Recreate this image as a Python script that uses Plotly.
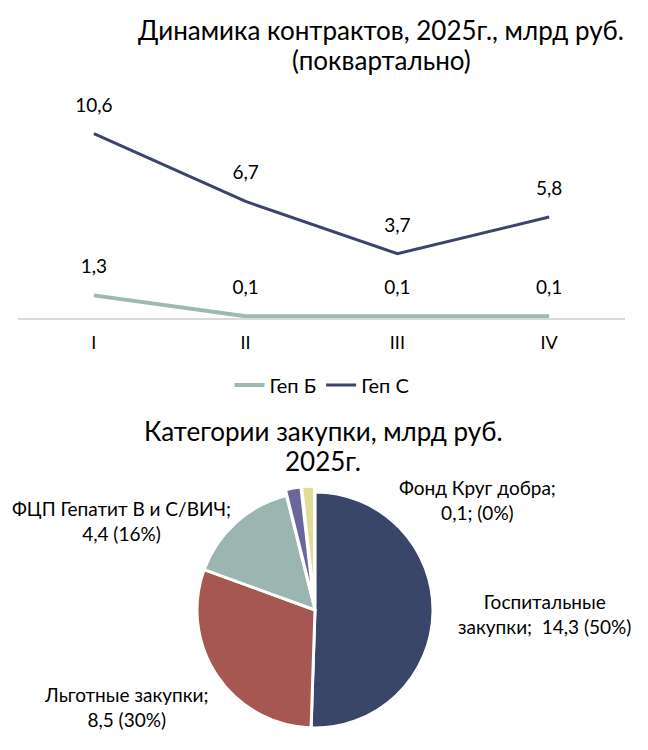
import plotly.graph_objects as go

# квартальная динамика
quarters = ["I", "II", "III", "IV"]
gep_b = [1.3, 0.1, 0.1, 0.1]
gep_c = [10.6, 6.7, 3.7, 5.8]

# категории закупки
categories = ["Госпитальные закупки", "Льготные закупки", "ФЦП Гепатит В и С/ВИЧ",
              "Прочие", "Фонд Круг добра"]
cat_values = [14.3, 8.5, 4.4, 0.6, 0.5]
cat_labels = ["Госпитальные<br>закупки;  14,3 (50%)", "Льготные закупки;<br>8,5 (30%)",
              "ФЦП Гепатит В и С/ВИЧ;<br>4,4 (16%)", "", "Фонд Круг добра;<br>0,1; (0%)"]
cat_colors = ["#3a4669", "#a65752", "#9bb5b1", "#6a6699", "#e1dc97"]

title_top = ["Динамика контрактов, 2025г., млрд руб.", "(поквартально)"]
title_pie = ["Категории закупки, млрд руб.", "2025г."]

# страница браузера добавляет отступ 8px
OFF = 8
W, H = 648 - OFF, 750 - OFF
FONT = "Lato"


def px(x):
    return (x - OFF) / W


def py(y):
    return 1 - (y - OFF) / H


def fmt(v):
    return f"{v:.1f}".replace(".", ",")


fig = go.Figure()

fig.add_trace(go.Scatter(
    x=quarters, y=gep_b, mode="lines+markers+text", name="Геп Б",
    line=dict(color="#9fb8b3", width=4),
    marker=dict(size=26, color="rgba(0,0,0,0)"),
    text=[fmt(v) for v in gep_b],
    textposition="top center", textfont=dict(size=19, color="black"),
    cliponaxis=False,
))
fig.add_trace(go.Scatter(
    x=quarters, y=gep_c, mode="lines+markers+text", name="Геп С",
    line=dict(color="#3b4569", width=3),
    marker=dict(size=26, color="rgba(0,0,0,0)"),
    text=[fmt(v) for v in gep_c],
    textposition="top center", textfont=dict(size=19, color="black"),
    cliponaxis=False,
))

# пирог
cx, cy, r = 315, 610, 118
pull = [0, 0, 0, 0.05, 0.05]
rr = r * 1.05
fig.add_trace(go.Pie(
    labels=categories, values=cat_values, sort=False, direction="clockwise",
    rotation=0, textinfo="none", showlegend=False, pull=pull,
    marker=dict(colors=cat_colors, line=dict(color="white", width=3)),
    domain=dict(x=[px(cx - rr), px(cx + rr)], y=[py(cy + rr), py(cy - rr)]),
    hoverinfo="label+value",
))

# подписи секторов
label_pos = [(544, 614), (126, 707), (121, 521), None, (477, 500)]
for txt, pos in zip(cat_labels, label_pos):
    if pos is None:
        continue
    fig.add_annotation(x=px(pos[0]), y=py(pos[1]), xref="paper", yref="paper",
                       xanchor="center", yanchor="middle",
                       text=txt, showarrow=False, align="center",
                       font=dict(size=19, color="black", family=FONT))

# заголовки
for lines, xc, ys in [(title_top, 381, [30, 60]), (title_pie, 323, [431, 461])]:
    for txt, yy in zip(lines, ys):
        fig.add_annotation(x=px(xc), y=py(yy), xref="paper", yref="paper",
                           xanchor="center", yanchor="middle",
                           text=txt, showarrow=False,
                           font=dict(size=26, color="black", family=FONT))

y0, y12 = 318, 318 - 12 * 17.4
fig.update_layout(
    width=W, height=H,
    margin=dict(l=0, r=0, t=0, b=0),
    paper_bgcolor="white", plot_bgcolor="white",
    font=dict(family=FONT, color="black"),
    xaxis=dict(domain=[px(18), px(625)], range=[-0.5, 3.5], showgrid=False,
               showline=True, linecolor="#d9d9d9", linewidth=1.5, ticks="",
               tickfont=dict(size=18), ticklabelstandoff=8, zeroline=False),
    yaxis=dict(domain=[py(y0), py(y12)], range=[0, 12], visible=False),
    legend=dict(orientation="h", x=px(322), xanchor="center", y=py(385), yanchor="middle",
                font=dict(size=20)),
)

fig.write_html("out.html")
